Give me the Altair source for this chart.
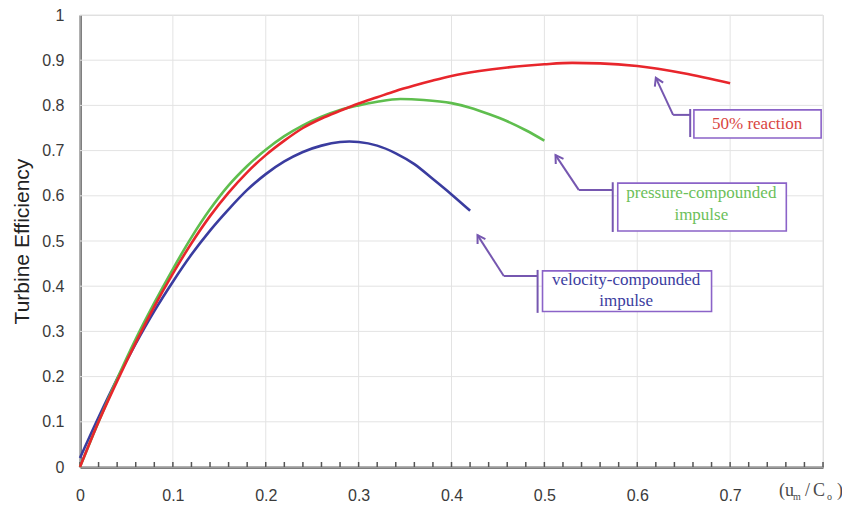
import altair as alt
import pandas as pd

# ---- data ----
series_names = ["velocity-compounded impulse", "pressure-compounded impulse", "50% reaction"]

x_velocity = [0, 0.02, 0.04, 0.06, 0.08, 0.10, 0.12, 0.14, 0.16, 0.18, 0.20, 0.22, 0.24,
              0.26, 0.28, 0.29, 0.30, 0.32, 0.34, 0.36, 0.38, 0.40, 0.42]
y_velocity = [0.02, 0.11, 0.195, 0.273, 0.345, 0.41, 0.47, 0.523, 0.57, 0.613, 0.648, 0.676, 0.697,
              0.711, 0.719, 0.720, 0.719, 0.711, 0.694, 0.670, 0.637, 0.603, 0.567]

x_pressure = [0, 0.02, 0.04, 0.06, 0.08, 0.10, 0.12, 0.14, 0.16, 0.18, 0.20, 0.22, 0.24, 0.26,
              0.28, 0.30, 0.32, 0.345, 0.37, 0.40, 0.42, 0.44, 0.46, 0.48, 0.50]
y_pressure = [0, 0.10, 0.195, 0.283, 0.363, 0.438, 0.508, 0.570, 0.623, 0.666, 0.702, 0.732, 0.756, 0.775,
              0.790, 0.800, 0.808, 0.814, 0.812, 0.805, 0.795, 0.781, 0.765, 0.745, 0.722]

x_reaction = [0, 0.02, 0.04, 0.06, 0.08, 0.10, 0.12, 0.14, 0.16, 0.18, 0.20, 0.22, 0.24, 0.26,
              0.28, 0.30, 0.32, 0.34, 0.36, 0.38, 0.40, 0.43, 0.46, 0.50, 0.53, 0.56, 0.60, 0.65, 0.70]
y_reaction = [0, 0.10, 0.19, 0.275, 0.355, 0.428, 0.495, 0.555, 0.607, 0.652, 0.690, 0.722, 0.750, 0.771,
              0.788, 0.804, 0.818, 0.832, 0.844, 0.855, 0.865, 0.876, 0.884, 0.891, 0.894, 0.893, 0.887, 0.871, 0.849]

line_colors = ["#3a3c9f", "#5fbe4e", "#e8262c"]

x_tick_labels = [0, 0.1, 0.2, 0.3, 0.4, 0.5, 0.6, 0.7]
x_grid = [0, 0.1, 0.2, 0.3, 0.4, 0.5, 0.6, 0.7, 0.8]
y_ticks = [0, 0.1, 0.2, 0.3, 0.4, 0.5, 0.6, 0.7, 0.8, 0.9, 1.0]
minor_ticks = [round(i * 0.02, 2) for i in range(41)]

# annotation callouts (data units)
ann_labels = [["50% reaction"], ["pressure-compounded", "impulse"], ["velocity-compounded", "impulse"]]
ann_text_colors = ["#d9463f", "#6cc05a", "#3b3da0"]
ann_box = [  # x1, x2, y_top, y_bottom
    [0.661, 0.798, 0.790, 0.728],
    [0.579, 0.7605, 0.628, 0.522],
    [0.498, 0.680, 0.434, 0.344],
]
ann_bracket = [  # x, y_top, y_bottom
    [0.657, 0.792, 0.730],
    [0.5736, 0.630, 0.520],
    [0.4927, 0.436, 0.341],
]
ann_text_x = [0.729, 0.669, 0.588]
ann_text_y = [[0.759], [0.606, 0.557], [0.414, 0.368]]
ann_arrow = [  # start(x,y), elbow(x,y), tip(x,y), head angle
    [0.657, 0.779, 0.6386, 0.779, 0.620, 0.861, 335],
    [0.5736, 0.613, 0.537, 0.613, 0.512, 0.690, 327],
    [0.4927, 0.4226, 0.4563, 0.4226, 0.428, 0.513, 328],
]

# ---- tables ----
rows = []
for name, xs_, ys_ in zip(series_names, [x_velocity, x_pressure, x_reaction],
                          [y_velocity, y_pressure, y_reaction]):
    for xv, yv in zip(xs_, ys_):
        rows.append({"series": name, "x": xv, "y": yv})
curves = pd.DataFrame(rows)

boxes = pd.DataFrame([{"x": b[0], "x2": b[1], "y": b[2], "y2": b[3]} for b in ann_box])
segs = []
for br, ar in zip(ann_bracket, ann_arrow):
    segs.append({"x": br[0], "y": br[1], "x2": br[0], "y2": br[2]})
    segs.append({"x": ar[0], "y": ar[1], "x2": ar[2], "y2": ar[3]})
    segs.append({"x": ar[2], "y": ar[3], "x2": ar[4], "y2": ar[5]})
segs = pd.DataFrame(segs)
heads = pd.DataFrame([{"x": a[4], "y": a[5], "ang": a[6]} for a in ann_arrow])
texts = []
for labs, tx, tys, col in zip(ann_labels, ann_text_x, ann_text_y, ann_text_colors):
    for lab, ty in zip(labs, tys):
        texts.append({"x": tx, "y": ty, "t": lab, "c": col})
texts = pd.DataFrame(texts)
ticks = pd.DataFrame({"x": minor_ticks})

# ---- encodings ----
W, H = 743, 452
xs = alt.Scale(domain=[0, 0.8], nice=False, zero=False)
ys = alt.Scale(domain=[0, 1], nice=False, zero=False)
x_axis = alt.Axis(values=x_tick_labels, title=None, grid=False, ticks=False,
                  labelPadding=20, labelFlush=False, labelFontSize=16,
                  labelFont="Liberation Sans", labelColor="#3a3a3a",
                  domainColor="#555555", domainWidth=2.5,
                  labelExpr="datum.value == 0 ? '0' : format(datum.value, '.1f')")
y_axis = alt.Axis(values=y_ticks, title="Turbine Efficiency", grid=False, ticks=False,
                  labelPadding=16, labelFontSize=16, labelFont="Liberation Sans",
                  labelColor="#3a3a3a", labelFlush=False,
                  labelExpr="datum.value == 0 ? '0' : datum.value == 1 ? '1' : format(datum.value, '.1f')",
                  titleFont="Liberation Sans", titleFontSize=21, titleFontWeight="normal",
                  titleColor="#222222", titlePadding=9,
                  domainColor="#555555", domainWidth=2.5)
X = alt.X("x:Q", scale=xs, axis=x_axis)
Y = alt.Y("y:Q", scale=ys, axis=y_axis)

vgrid = alt.Chart(pd.DataFrame({"x": x_grid})).mark_rule(color="#e3e3e3", strokeWidth=1).encode(x=X)
hgrid = alt.Chart(pd.DataFrame({"y": y_ticks})).mark_rule(color="#e3e3e3", strokeWidth=1).encode(y=Y)
minor = alt.Chart(ticks).mark_rule(color="#555555", strokeWidth=1.5).encode(
    x=X, y=alt.value(H), y2=alt.value(H - 5))

layers = [vgrid, hgrid, minor]
for name, col in zip(series_names, line_colors):
    layers.append(
        alt.Chart(curves[curves["series"] == name]).mark_line(
            color=col, strokeWidth=2.6, interpolate="monotone").encode(x=X, y=Y, order="x:Q")
    )

purple = "#8b63c8"
arrow_col = "#7657b0"
seg_layer = alt.Chart(segs).mark_rule(color=arrow_col, strokeWidth=2).encode(
    x=X, y=Y, x2="x2:Q", y2="y2:Q")
box_layer = alt.Chart(boxes).mark_rect(fill="white", stroke=purple, strokeWidth=1.6).encode(
    x=X, y=Y, x2="x2:Q", y2="y2:Q")
head_layer = alt.Chart(heads).mark_point(
    shape="M-0.55,0.9L0,0L0.55,0.9", filled=False, strokeWidth=2, size=280,
    color=arrow_col, opacity=1).encode(x=X, y=Y, angle=alt.Angle("ang:Q", scale=None))
text_layer = alt.Chart(texts).mark_text(font="Liberation Serif", fontSize=17).encode(
    x=X, y=Y, text="t:N", color=alt.Color("c:N", scale=None))
layers += [seg_layer, box_layer, head_layer, text_layer]

# x-axis title pieces: (u_m / C_o)
def piece(t, px, py, size):
    return alt.Chart(pd.DataFrame({"t": [t]})).mark_text(
        font="Liberation Serif", fontSize=size, color="#4a4a4a", align="left", baseline="middle"
    ).encode(text="t:N", x=alt.value(px), y=alt.value(py))

layers += [
    piece("(u", 699, 476, 18),
    piece("m", 713, 482, 10),
    piece("/", 725, 476, 18),
    piece("C", 733, 476, 18),
    piece("o", 747, 482, 10),
    piece(")", 757, 476, 18),
]

chart = alt.layer(*layers).properties(
    width=W, height=H,
    autosize=alt.AutoSizeParams(type="none"),
    padding={"left": 72, "top": 7, "right": 19, "bottom": 37},
).configure_view(stroke="#666666", strokeWidth=1.5).configure(background="white")

chart.save("out.html", embed_options={"renderer": "svg", "actions": False})
